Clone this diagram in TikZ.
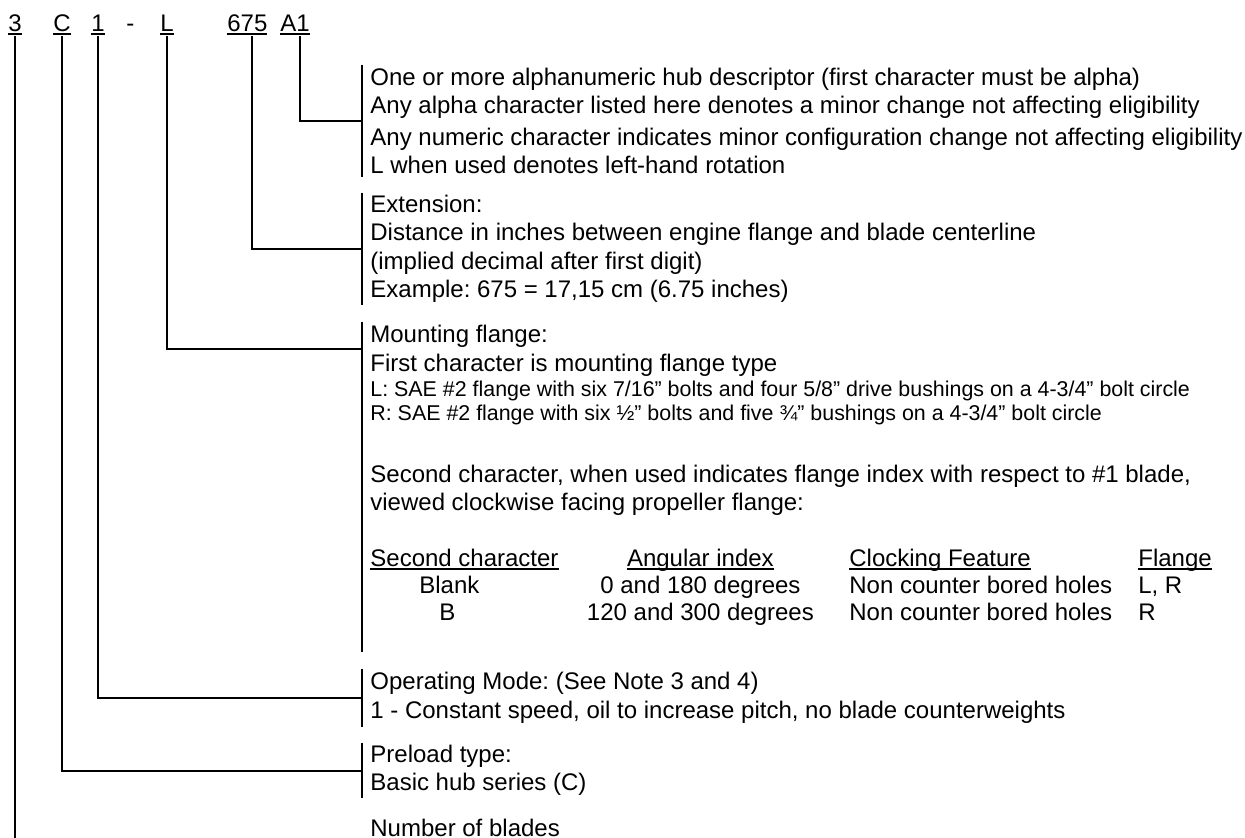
\documentclass[tikz,border=0pt]{standalone}
\usepackage{fontspec}
\setmainfont{Liberation Sans}
\usetikzlibrary{positioning}
\frenchspacing

% underline drawn with the same weight as the leader lines
\newcommand{\undl}[1]{\setbox0\hbox{#1}\rlap{\rule[-1.75pt]{\wd0}{1pt}}\box0}
% one row of the flange index table
\newcommand{\idxrow}[4]{\makebox[107.5pt][l]{#1}\makebox[115pt][c]{#2}\hspace{17pt}\makebox[144.5pt][l]{#3}#4}
\newcommand{\boltfont}{\fontsize{10.7}{14.25}\selectfont}

\begin{document}
\begin{tikzpicture}[
  x=0.5pt, y=-0.5pt,
  font=\fontsize{12}{14.25}\selectfont,
  code/.style={anchor=base west, inner sep=0pt},
  descr/.style={anchor=west, align=left, inner xsep=4pt, inner ysep=0pt},
  lead/.style={line width=1pt},
  bar/.style={line width=1pt}
]
\useasboundingbox (0,0) rectangle (1245,838);

% Top: the model designation
\node[code] (n3) at (8,32) {\undl{3}};
\node[code] (nC) at (53,32) {\undl{C}};
\node[code] (n1) at (91,32) {\undl{1}};
\node[code] (ndash) at (126,32) {-};
\node[code] (nL) at (160,32) {\undl{L}};
\node[code] (n675) at (227,32) {\undl{675}};
\node[code] (nA1) at (280,32) {\undl{A1}};

% Descriptions
\node[descr, minimum height=56pt] (hubdesc) at (362,121) {One or more alphanumeric hub descriptor (first character must be alpha)\\
  Any alpha character listed here denotes a minor change not affecting eligibility\\[1.5pt]
  Any numeric character indicates minor configuration change not affecting eligibility\\
  L when used denotes left-hand rotation};

\node[descr, minimum height=56pt] (ext) at (362,249) {Extension:\\
  Distance in inches between engine flange and blade centerline\\
  (implied decimal after first digit)\\
  Example: 675 = 17,15 cm (6.75 inches)};

\node[descr, minimum height=165pt] (flange) at (362,487) {Mounting flange:\\
  First character is mounting flange type\\[-1.5pt]
  {\boltfont L: SAE \#2 flange with six 7/16” bolts and four 5/8” drive bushings on a 4-3/4” bolt circle}\\[-2.25pt]
  {\boltfont R: SAE \#2 flange with six ½” bolts and five ¾” bushings on a 4-3/4” bolt circle}\\[16.5pt]
  Second character, when used indicates flange index with respect to \#1 blade,\\
  viewed clockwise facing propeller flange:\\[13.5pt]
  \idxrow{\undl{Second character}}{\undl{Angular index}}{\undl{Clocking Feature}}{\undl{Flange}}\\[-0.75pt]
  \idxrow{\hspace{24.5pt}Blank}{0 and 180 degrees}{Non counter bored holes}{L, R}\\[-0.75pt]
  \idxrow{\hspace{34.5pt}B}{120 and 300 degrees}{Non counter bored holes}{R}\\
  \mbox{}};

\node[descr, minimum height=29pt] (opmode) at (362,698) {Operating Mode: (See Note 3 and 4)\\
  1 - Constant speed, oil to increase pitch, no blade counterweights};

\node[descr, minimum height=27.5pt] (preload) at (362,770.5) {Preload type:\\
  Basic hub series (C)};

\node[descr, anchor=base west] (blades) at (362,836) {Number of blades};
\coordinate (bladesend) at (14,838);

% Bars
\foreach \b in {hubdesc,ext,flange,opmode,preload}
  \draw[bar] (\b.north west) -- (\b.south west);

% Leaders
\draw[lead] ([xshift=2.5pt]nA1.south) |- (hubdesc.west);
\draw[lead] ([xshift=2.5pt]n675.south) |- (ext.west);
\draw[lead] (nL.south) |- ([yshift=-13.5pt]flange.north west);
\draw[lead] (n1.south) |- (opmode.west);
\draw[lead] (nC.south) |- (preload.west);
\draw[lead] (n3.south) -- (n3.south |- bladesend);
\end{tikzpicture}
\end{document}
